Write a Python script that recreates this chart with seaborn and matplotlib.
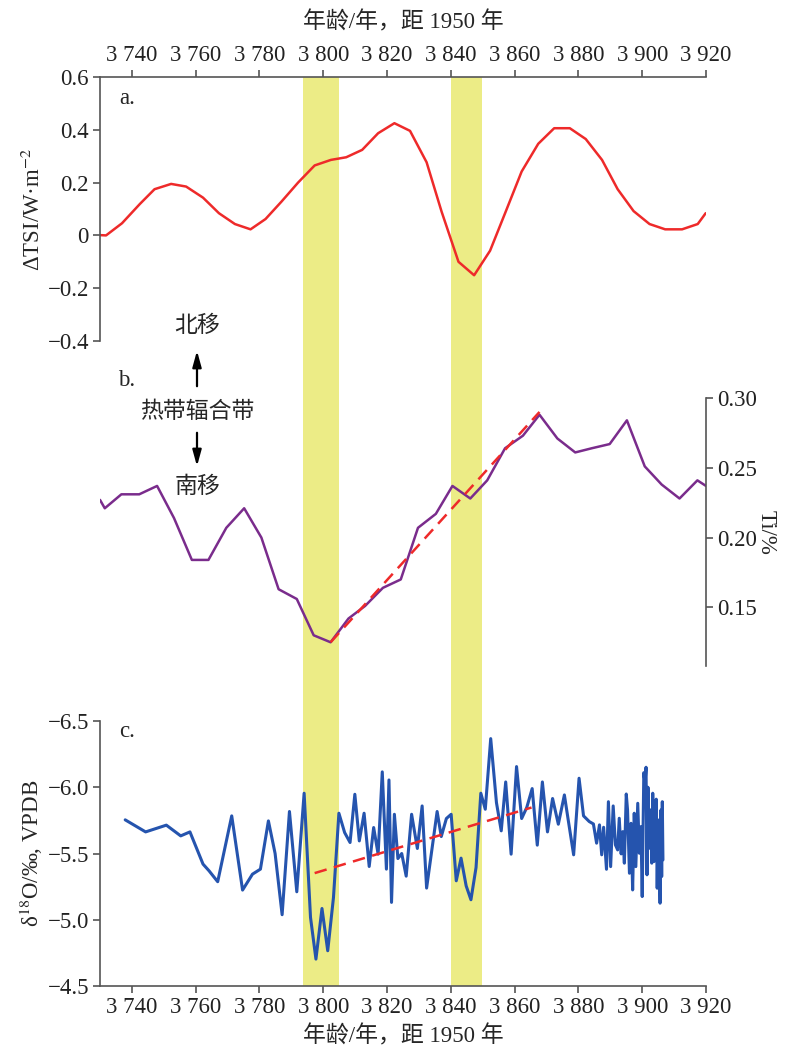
import numpy as np
import pandas as pd
import matplotlib
matplotlib.use("Agg")
import matplotlib.pyplot as plt
from matplotlib.ticker import FuncFormatter, FixedLocator
import seaborn as sns

# ---- data ----
tsi_age = [3730.1, 3731.9, 3736.9, 3742.5, 3747.1, 3752.3, 3757.0, 3762.3, 3767.3, 3772.3,
           3777.2, 3781.9, 3786.9, 3792.1, 3797.3, 3802.4, 3807.2, 3812.2, 3817.2, 3822.3,
           3827.2, 3832.4, 3837.1, 3842.4, 3847.3, 3852.3, 3857.2, 3862.2, 3867.4, 3872.4,
           3877.3, 3882.3, 3887.4, 3892.3, 3897.3, 3902.3, 3907.2, 3912.5, 3917.4, 3919.9]
tsi_val = [0.001, 0.0, 0.046, 0.119, 0.175, 0.195, 0.185, 0.143, 0.084, 0.043,
           0.023, 0.062, 0.128, 0.200, 0.265, 0.286, 0.296, 0.324, 0.387, 0.425,
           0.396, 0.277, 0.090, -0.100, -0.151, -0.058, 0.090, 0.242, 0.347, 0.406,
           0.406, 0.365, 0.286, 0.175, 0.092, 0.043, 0.023, 0.023, 0.043, 0.084]

ti_age = [3730.0, 3731.5, 3736.7, 3742.3, 3747.9, 3753.2, 3758.8, 3764.0, 3769.6, 3775.2,
          3780.6, 3786.0, 3791.7, 3797.0, 3802.3, 3807.9, 3813.1, 3818.7, 3824.3, 3829.7,
          3835.3, 3840.5, 3846.1, 3851.4, 3857.0, 3862.6, 3867.8, 3873.4, 3879.0, 3884.2,
          3889.8, 3895.2, 3900.8, 3906.1, 3911.7, 3917.3, 3920.0]
ti_val = [0.227, 0.221, 0.231, 0.231, 0.237, 0.214, 0.184, 0.184, 0.207, 0.221,
          0.200, 0.163, 0.156, 0.130, 0.125, 0.142, 0.151, 0.164, 0.170, 0.207,
          0.217, 0.237, 0.228, 0.241, 0.264, 0.273, 0.288, 0.271, 0.261, 0.264,
          0.267, 0.284, 0.251, 0.238, 0.228, 0.241, 0.237]
ti_trend_age = [3802.3, 3867.8]
ti_trend_val = [0.125, 0.290]

d18o_age = [3737.9, 3744.3, 3750.8, 3755.3, 3758.2, 3762.3, 3764.2, 3766.9, 3771.3, 3774.7,
            3777.8, 3780.3, 3782.8, 3784.9, 3787.1, 3789.4, 3791.7, 3794.0, 3796.0, 3797.7,
            3799.6, 3801.4, 3803.2, 3804.9, 3806.7, 3808.4, 3809.9, 3811.3, 3812.8, 3814.4,
            3815.8, 3817.2, 3818.5, 3819.8, 3820.6, 3821.4, 3822.3, 3823.4, 3824.6, 3826.0,
            3827.7, 3829.5, 3831.0, 3832.4, 3835.7, 3837.0, 3838.6, 3840.1, 3841.7, 3843.2,
            3844.8, 3846.3, 3847.9, 3849.4, 3850.8, 3852.5, 3854.3, 3855.8, 3857.2, 3858.9,
            3860.6, 3862.2, 3863.8, 3865.5, 3867.1, 3868.7, 3870.3, 3871.9, 3873.7, 3875.6,
            3876.8, 3878.5, 3880.2, 3881.6, 3883.4, 3884.7, 3885.7, 3886.6, 3887.3, 3887.9,
            3888.8, 3889.4, 3890.1, 3890.9, 3891.6, 3892.3, 3892.8, 3893.4, 3893.9, 3894.4,
            3895.0, 3895.4, 3896.0, 3896.5, 3897.0, 3897.5, 3898.0, 3898.6, 3899.1, 3899.6,
            3900.0, 3900.5, 3900.9, 3901.2, 3901.5, 3901.8, 3902.3, 3902.6, 3903.0, 3903.3,
            3903.7, 3904.1, 3904.4, 3904.7, 3905.0, 3905.3, 3905.6, 3905.9, 3906.1, 3906.3,
            3906.5]
d18o_val = [-5.754, -5.663, -5.714, -5.633, -5.663, -5.420, -5.369, -5.287, -5.784, -5.224,
            -5.344, -5.382, -5.746, -5.500, -5.038, -5.817, -5.211, -5.955, -5.018, -4.703,
            -5.085, -4.766, -5.168, -5.804, -5.658, -5.583, -5.947, -5.595, -5.804, -5.402,
            -5.696, -5.495, -6.116, -5.382, -6.055, -5.131, -5.796, -5.462, -5.500, -5.329,
            -5.796, -5.538, -5.859, -5.239, -5.817, -5.628, -5.764, -5.796, -5.294, -5.465,
            -5.256, -5.151, -5.394, -5.955, -5.834, -6.367, -5.884, -5.671, -6.040, -5.495,
            -6.156, -5.764, -5.847, -5.990, -5.563, -6.040, -5.663, -5.915, -5.721, -5.942,
            -5.753, -5.490, -6.068, -5.784, -5.741, -5.723, -5.578, -5.716, -5.490, -5.698,
            -5.381, -5.891, -5.401, -5.859, -5.565, -5.527, -5.766, -5.497, -5.665, -5.427,
            -5.949, -5.829, -5.351, -5.728, -5.225, -5.804, -5.401, -5.879, -5.502, -5.703,
            -5.175, -6.110, -6.030, -6.151, -5.339, -6.000, -5.540, -5.829, -5.427, -5.955,
            -5.439, -5.728, -5.910, -5.238, -5.753, -5.502, -5.125, -5.829, -5.326, -5.891,
            -5.452]
d18o_trend_age = [3797.3, 3865.3]
d18o_trend_val = [-5.352, -5.847]

bands = [(3793.6, 3804.8), (3840.2, 3849.7)]
age_ticks = list(range(3740, 3921, 20))
tsi_ticks = [-0.4, -0.2, 0, 0.2, 0.4, 0.6]
ti_ticks = [0.15, 0.20, 0.25, 0.30]
d18o_ticks = [-6.5, -6.0, -5.5, -5.0, -4.5]

xlabel = "年龄/年，距 1950 年"

# ---- style ----
sns.set_theme(style="white")
plt.rcParams["font.family"] = ["Liberation Serif", "Noto Sans CJK SC"]
plt.rcParams["mathtext.fontset"] = "stix"
plt.rcParams["axes.unicode_minus"] = True
spine_col = "#555555"
plt.rcParams.update({
    "axes.edgecolor": spine_col,
    "xtick.color": spine_col, "ytick.color": spine_col,
    "xtick.labelcolor": "#222222", "ytick.labelcolor": "#222222",
    "xtick.major.size": 5, "ytick.major.size": 5,
    "xtick.major.width": 1.2, "ytick.major.width": 1.2,
    "axes.linewidth": 1.2,
})
FS = 16.5

df_tsi = pd.DataFrame({"age": tsi_age, "val": tsi_val})
df_ti = pd.DataFrame({"age": ti_age, "val": ti_val})
df_ti_tr = pd.DataFrame({"age": ti_trend_age, "val": ti_trend_val})
df_o = pd.DataFrame({"age": d18o_age, "val": d18o_val})
df_o_tr = pd.DataFrame({"age": d18o_trend_age, "val": d18o_trend_val})

W, H = 791, 1049
fig = plt.figure(figsize=(W / 100, H / 100), dpi=100)


def rect(top, bottom, left=100, right=706):
    return [left / W, 1 - bottom / H, (right - left) / W, (bottom - top) / H]


def fxy(x, y):
    return (x / W, 1 - y / H)


XLIM = (3730, 3920)
age_fmt = FuncFormatter(lambda v, p: f"{int(v) // 1000} {int(v) % 1000:03d}")
minus = lambda s: s.replace("-", "\u2212")

# background axes for highlighted bands
ax_bg = fig.add_axes(rect(77, 986))
for a, b in bands:
    ax_bg.axvspan(a, b, color="#ecec86", lw=0)
ax_bg.set_xlim(XLIM)
ax_bg.axis("off")

# panel a
ax_a = fig.add_axes(rect(77, 341))
ax_a.patch.set_alpha(0)
sns.lineplot(data=df_tsi, x="age", y="val", ax=ax_a, color="#ee2a2a", lw=1.8, estimator=None)
ax_a.set_xlim(XLIM)
ax_a.set_ylim(-0.4, 0.6)
ax_a.xaxis.tick_top()
ax_a.xaxis.set_label_position("top")
ax_a.xaxis.set_major_locator(FixedLocator(age_ticks))
ax_a.xaxis.set_major_formatter(age_fmt)
ax_a.yaxis.set_major_locator(FixedLocator(tsi_ticks))
ax_a.yaxis.set_major_formatter(FuncFormatter(lambda v, p: minus(f"{v:g}")))
ax_a.set_xlabel(xlabel, fontsize=FS, labelpad=12)
ax_a.set_ylabel(r"ΔTSI/W·m$^{-2}$", fontsize=FS, labelpad=2)
ax_a.tick_params(axis="both", labelsize=FS, pad=3)
ax_a.tick_params(axis="x", top=True, bottom=False)
ax_a.tick_params(axis="y", left=True)
for s in ["right", "bottom"]:
    ax_a.spines[s].set_visible(False)
ax_a.text(3738.5, 0.52, "a.", fontsize=FS, ha="center", va="center")

# panel b
ax_b = fig.add_axes(rect(398, 666))
ax_b.patch.set_alpha(0)
sns.lineplot(data=df_ti, x="age", y="val", ax=ax_b, color="#7a2c8c", lw=1.8, estimator=None)
sns.lineplot(data=df_ti_tr, x="age", y="val", ax=ax_b, color="#ee2a2a", lw=1.8,
             linestyle=(0, (5, 3)), estimator=None)
ax_b.set_xlim(XLIM)
ax_b.set_ylim(0.108, 0.30)
ax_b.yaxis.tick_right()
ax_b.yaxis.set_label_position("right")
ax_b.yaxis.set_major_locator(FixedLocator(ti_ticks))
ax_b.yaxis.set_major_formatter(FuncFormatter(lambda v, p: f"{v:.2f}"))
ax_b.set_xticks([])
ax_b.set_xlabel("")
ax_b.set_ylabel("Ti/%", fontsize=FS, rotation=270, labelpad=14)
ax_b.tick_params(axis="y", labelsize=FS, pad=3, right=True)
for s in ["left", "top", "bottom"]:
    ax_b.spines[s].set_visible(False)

# annotations to the left of panel b
fig.text(*fxy(127, 381), "b.", fontsize=FS, ha="center", va="center")
fig.text(*fxy(197, 326), "北移", fontsize=FS, ha="center", va="center")
fig.text(*fxy(197, 412), "热带辐合带", fontsize=FS, ha="center", va="center")
fig.text(*fxy(197, 487), "南移", fontsize=FS, ha="center", va="center")
arrow = dict(arrowstyle="-|>,head_width=0.22,head_length=0.8", color="black", lw=1.6)
ax_bg.annotate("", xy=fxy(197, 348), xytext=fxy(197, 389), xycoords="figure fraction",
               textcoords="figure fraction", arrowprops=arrow)
ax_bg.annotate("", xy=fxy(197, 469), xytext=fxy(197, 430), xycoords="figure fraction",
               textcoords="figure fraction", arrowprops=arrow)

# panel c
ax_c = fig.add_axes(rect(721, 986))
ax_c.patch.set_alpha(0)
sns.lineplot(data=df_o, x="age", y="val", ax=ax_c, color="#2554ae", lw=2.2, estimator=None)
sns.lineplot(data=df_o_tr, x="age", y="val", ax=ax_c, color="#ee2a2a", lw=1.8,
             linestyle=(0, (5, 3)), estimator=None)
ax_c.set_xlim(XLIM)
ax_c.set_ylim(-4.5, -6.5)
ax_c.xaxis.set_major_locator(FixedLocator(age_ticks))
ax_c.xaxis.set_major_formatter(age_fmt)
ax_c.yaxis.set_major_locator(FixedLocator(d18o_ticks))
ax_c.yaxis.set_major_formatter(FuncFormatter(lambda v, p: minus(f"{v:.1f}")))
ax_c.set_xlabel(xlabel, fontsize=FS, labelpad=5)
ax_c.set_ylabel(r"δ$^{18}$O/‰, VPDB", fontsize=FS, labelpad=2)
ax_c.tick_params(axis="both", labelsize=FS, pad=3)
ax_c.tick_params(axis="x", bottom=True)
ax_c.tick_params(axis="y", left=True)
for s in ["right", "top"]:
    ax_c.spines[s].set_visible(False)
ax_c.text(3738.5, -6.42, "c.", fontsize=FS, ha="center", va="center")

fig.savefig("out.png", dpi=100)
